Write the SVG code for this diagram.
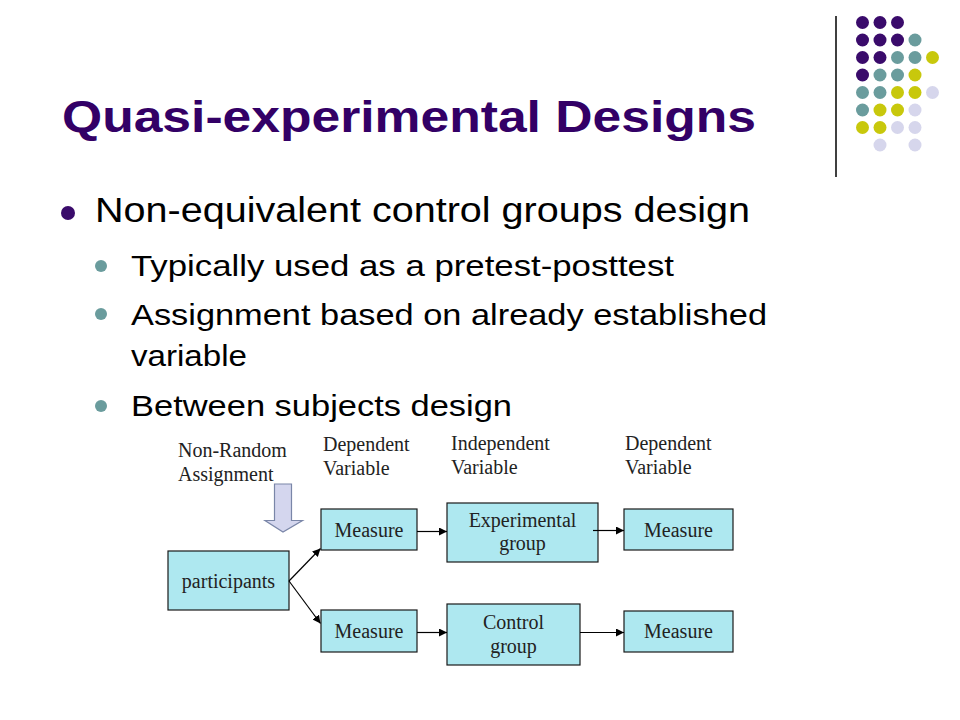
<svg xmlns="http://www.w3.org/2000/svg" width="960" height="720" viewBox="0 0 960 720">
<defs>
<style>
.pu{fill:#3a0b6b}.te{fill:#6a9c9d}.ye{fill:#c8c80c}.la{fill:#d6d6ec}
.title{font-family:"Liberation Sans",Arial,sans-serif;font-weight:bold;font-size:44px;fill:#330066}
.b1{font-family:"Liberation Sans",Arial,sans-serif;font-size:35px;fill:#000}
.b2{font-family:"Liberation Sans",Arial,sans-serif;font-size:30px;fill:#000}
.lbl{font-family:"Liberation Serif","Times New Roman",serif;font-size:20px;fill:#222}
.nt{font-family:"Liberation Serif","Times New Roman",serif;font-size:20px;fill:#222;text-anchor:middle}
.box{fill:#aee8f0;stroke:#1a1a1a;stroke-width:1.2}
.con{stroke:#000;stroke-width:1.2;fill:none;marker-end:url(#ah)}
</style>
<marker id="ah" viewBox="0 0 10 10" refX="10" refY="5" markerWidth="8" markerHeight="8" markerUnits="userSpaceOnUse" orient="auto">
<path d="M0,0 L10,5 L0,10 z" fill="#000"/>
</marker>
</defs>
<rect width="960" height="720" fill="#fff"/>

<g id="decor">
<line x1="836" y1="16" x2="836" y2="177" stroke="#000" stroke-width="1.5"/>
<circle class="pu" cx="862.5" cy="22.5" r="6.5"/><circle class="pu" cx="880" cy="22.5" r="6.5"/><circle class="pu" cx="897.5" cy="22.5" r="6.5"/>
<circle class="pu" cx="862.5" cy="40" r="6.5"/><circle class="pu" cx="880" cy="40" r="6.5"/><circle class="pu" cx="897.5" cy="40" r="6.5"/><circle class="te" cx="915" cy="40" r="6.5"/>
<circle class="pu" cx="862.5" cy="57.5" r="6.5"/><circle class="pu" cx="880" cy="57.5" r="6.5"/><circle class="te" cx="897.5" cy="57.5" r="6.5"/><circle class="te" cx="915" cy="57.5" r="6.5"/><circle class="ye" cx="932.5" cy="57.5" r="6.5"/>
<circle class="pu" cx="862.5" cy="75" r="6.5"/><circle class="te" cx="880" cy="75" r="6.5"/><circle class="te" cx="897.5" cy="75" r="6.5"/><circle class="ye" cx="915" cy="75" r="6.5"/>
<circle class="te" cx="862.5" cy="92.5" r="6.5"/><circle class="te" cx="880" cy="92.5" r="6.5"/><circle class="ye" cx="897.5" cy="92.5" r="6.5"/><circle class="ye" cx="915" cy="92.5" r="6.5"/><circle class="la" cx="932.5" cy="92.5" r="6.5"/>
<circle class="te" cx="862.5" cy="110" r="6.5"/><circle class="ye" cx="880" cy="110" r="6.5"/><circle class="ye" cx="897.5" cy="110" r="6.5"/><circle class="la" cx="915" cy="110" r="6.5"/>
<circle class="ye" cx="862.5" cy="127.5" r="6.5"/><circle class="ye" cx="880" cy="127.5" r="6.5"/><circle class="la" cx="897.5" cy="127.5" r="6.5"/><circle class="la" cx="915" cy="127.5" r="6.5"/>
<circle class="la" cx="880" cy="145" r="6.5"/><circle class="la" cx="915" cy="145" r="6.5"/>
</g>

<g id="title">
<text class="title" x="62" y="132" textLength="694" lengthAdjust="spacingAndGlyphs">Quasi-experimental Designs</text>
</g>

<g id="bullets">
<circle cx="68" cy="213" r="7" fill="#3a0b6b"/>
<text class="b1" x="95" y="222" textLength="655" lengthAdjust="spacingAndGlyphs">Non-equivalent control groups design</text>
<circle cx="101" cy="266" r="6" fill="#6a9c9d"/>
<text class="b2" x="131" y="276" textLength="543" lengthAdjust="spacingAndGlyphs">Typically used as a pretest-posttest</text>
<circle cx="101" cy="314" r="6" fill="#6a9c9d"/>
<text class="b2" x="131" y="325" textLength="636" lengthAdjust="spacingAndGlyphs">Assignment based on already established</text>
<text class="b2" x="131" y="366" textLength="116" lengthAdjust="spacingAndGlyphs">variable</text>
<circle cx="101" cy="406" r="6" fill="#6a9c9d"/>
<text class="b2" x="131" y="416" textLength="381" lengthAdjust="spacingAndGlyphs">Between subjects design</text>
</g>

<g id="labels">
<text class="lbl" x="178" y="457">Non-Random</text>
<text class="lbl" x="178" y="481">Assignment</text>
<text class="lbl" x="323" y="451">Dependent</text>
<text class="lbl" x="323" y="475">Variable</text>
<text class="lbl" x="451" y="450">Independent</text>
<text class="lbl" x="451" y="474">Variable</text>
<text class="lbl" x="625" y="450">Dependent</text>
<text class="lbl" x="625" y="474">Variable</text>
</g>

<g id="assign-arrow">
<path d="M274.5,484 H291.5 V520.5 H302.5 L283,532 L265,520.5 H274.5 Z" fill="#d4d6ee" stroke="#7a86a8" stroke-width="1.2"/>
</g>

<g id="participants"><rect class="box" x="168" y="551" width="121" height="59"/><text class="nt" x="228.5" y="588">participants</text></g>
<g id="measure-pre-exp"><rect class="box" x="321" y="509" width="96" height="41"/><text class="nt" x="369" y="537">Measure</text></g>
<g id="measure-pre-ctl"><rect class="box" x="321" y="610" width="96" height="42"/><text class="nt" x="369" y="638">Measure</text></g>
<g id="experimental"><rect class="box" x="447" y="503" width="151" height="59"/><text class="nt" x="522.5" y="527">Experimental</text><text class="nt" x="522.5" y="550">group</text></g>
<g id="control"><rect class="box" x="447" y="604" width="133" height="61"/><text class="nt" x="513.5" y="629">Control</text><text class="nt" x="513.5" y="653">group</text></g>
<g id="measure-post-exp"><rect class="box" x="624" y="509" width="109" height="41"/><text class="nt" x="678.5" y="537">Measure</text></g>
<g id="measure-post-ctl"><rect class="box" x="624" y="611" width="109" height="41"/><text class="nt" x="678.5" y="638">Measure</text></g>

<g id="connectors">
<line class="con" x1="289" y1="581" x2="320.5" y2="548.5"/>
<line class="con" x1="289" y1="581" x2="320.5" y2="623.5"/>
<line class="con" x1="417" y1="531.5" x2="447" y2="531.5"/>
<line class="con" x1="417" y1="632.5" x2="447" y2="632.5"/>
<line class="con" x1="593" y1="530.5" x2="624" y2="530.5"/>
<line class="con" x1="580" y1="632.5" x2="624" y2="632.5"/>
</g>
</svg>
